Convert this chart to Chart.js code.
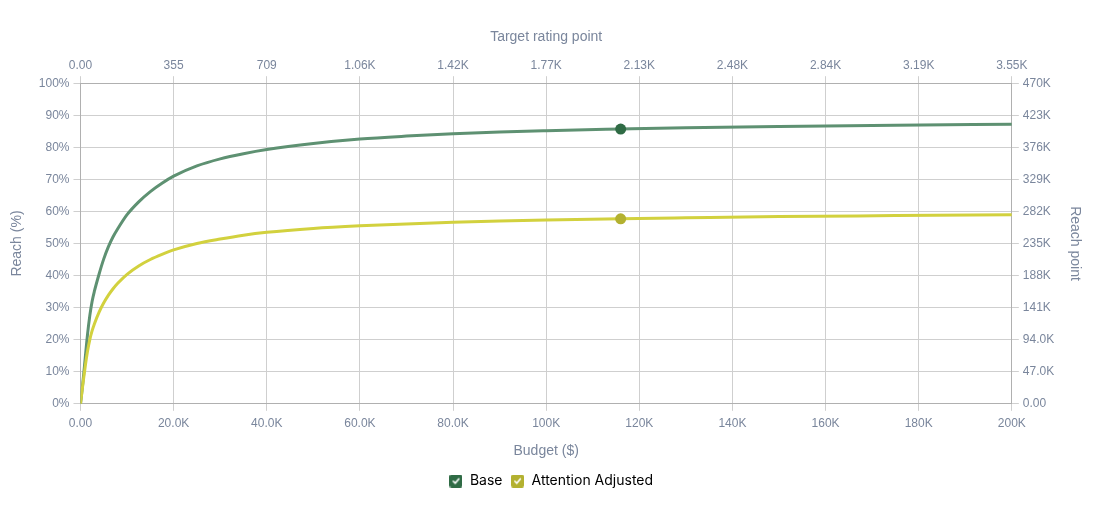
<!DOCTYPE html>
<html>
<head>
<meta charset="utf-8">
<script src="https://cdn.jsdelivr.net/npm/chart.js@4/dist/chart.umd.min.js"></script>
<style>
  html, body { margin: 0; padding: 0; background: #ffffff; }
  #wrap { width: 1102px; height: 508px; position: relative; }
</style>
</head>
<body>
<div id="wrap"><canvas id="c"></canvas></div>
<script>
// ---- data ----
const budget = [0, 500, 1000, 1500, 2000, 2500, 3000, 4000, 5000, 6000, 7000, 8000, 10000, 12500, 15000, 17500, 20000, 25000, 30000, 35000, 40000, 50000, 60000, 70000, 80000, 90000, 100000, 116000, 130000, 150000, 175000, 200000];
const baseReach = [0, 6.5, 14.0, 21.5, 27.5, 32.0, 35.2, 40.5, 45.2, 49.0, 52.1, 54.6, 59.0, 63.0, 66.2, 68.8, 71.0, 74.2, 76.4, 78.0, 79.3, 81.2, 82.6, 83.5, 84.2, 84.8, 85.2, 85.7, 86.1, 86.5, 86.9, 87.2];
const attentionReach = [0, 6.0, 11.5, 16.3, 20.0, 22.8, 25.0, 28.6, 31.5, 33.9, 35.9, 37.6, 40.4, 43.0, 45.0, 46.6, 48.0, 50.0, 51.4, 52.6, 53.5, 54.7, 55.5, 56.1, 56.6, 57.0, 57.3, 57.7, 58.0, 58.4, 58.7, 59.0];
const markerBudget = 116000;
const seriesNames = ['Base', 'Attention Adjusted'];

const bottomTickLabels = ['0.00', '20.0K', '40.0K', '60.0K', '80.0K', '100K', '120K', '140K', '160K', '180K', '200K'];
const topTickLabels = ['0.00', '355', '709', '1.06K', '1.42K', '1.77K', '2.13K', '2.48K', '2.84K', '3.19K', '3.55K'];
const leftTickLabels = ['0%', '10%', '20%', '30%', '40%', '50%', '60%', '70%', '80%', '90%', '100%'];
const rightTickLabels = ['0.00', '47.0K', '94.0K', '141K', '188K', '235K', '282K', '329K', '376K', '423K', '470K'];

// ---- styling ----
const tickColor = '#7a869c';
const gridColor = '#cfcfcf';
const borderColor = '#b0b0b0';
const tickFont = { family: 'Liberation Sans, Arial, Helvetica, sans-serif', size: 12 };
const titleFont = { family: 'Liberation Sans, Arial, Helvetica, sans-serif', size: 14 };

function checkBox(color) {
  const s = 13;
  const cv = document.createElement('canvas');
  cv.width = s; cv.height = s;
  const g = cv.getContext('2d');
  g.fillStyle = color;
  const r = 2;
  g.beginPath();
  g.moveTo(r, 0); g.lineTo(s - r, 0); g.quadraticCurveTo(s, 0, s, r);
  g.lineTo(s, s - r); g.quadraticCurveTo(s, s, s - r, s);
  g.lineTo(r, s); g.quadraticCurveTo(0, s, 0, s - r);
  g.lineTo(0, r); g.quadraticCurveTo(0, 0, r, 0);
  g.fill();
  g.strokeStyle = '#ffffff';
  g.lineWidth = 1.6;
  g.lineCap = 'round';
  g.lineJoin = 'round';
  g.beginPath();
  g.moveTo(3.8, 6.8); g.lineTo(5.7, 8.8); g.lineTo(9.3, 4.4);
  g.stroke();
  return cv;
}

const lineColors = ['#5e9172', '#d2d13e'];
const markerColors = ['#2f6b45', '#b3b130'];

function mkData(vals) { return budget.map((b, i) => ({ x: b, y: vals[i] })); }

const datasets = [baseReach, attentionReach].map((vals, k) => ({
  label: seriesNames[k],
  data: mkData(vals),
  borderColor: lineColors[k],
  backgroundColor: markerColors[k],
  borderWidth: 3,
  cubicInterpolationMode: 'monotone',
  pointRadius: ctx => (ctx.raw && ctx.raw.x === markerBudget) ? 5.5 : 0,
  pointHoverRadius: ctx => (ctx.raw && ctx.raw.x === markerBudget) ? 5.5 : 0,
  pointBackgroundColor: markerColors[k],
  pointBorderColor: markerColors[k],
  pointBorderWidth: 0,
  fill: false,
  xAxisID: 'x',
  yAxisID: 'y',
  order: 1 - k
}));

new Chart(document.getElementById('c'), {
  type: 'line',
  data: { datasets },
  options: {
    responsive: true,
    maintainAspectRatio: false,
    animation: false,
    layout: { padding: { top: 28, left: 14, right: 14, bottom: 10 } },
    plugins: {
      tooltip: { enabled: false },
      legend: {
        position: 'bottom',
        labels: {
          usePointStyle: true,
          padding: 8,
          font: { family: 'Inter, sans-serif', size: 14 },
          color: '#1f2733',
          generateLabels: chart => chart.data.datasets.map((ds, i) => ({
            text: ds.label,
            pointStyle: checkBox(markerColors[i]),
            fillStyle: markerColors[i],
            strokeStyle: markerColors[i],
            lineWidth: 0,
            hidden: false,
            datasetIndex: i
          }))
        }
      }
    },
    scales: {
      x: {
        type: 'linear',
        position: 'bottom',
        min: 0, max: 200000,
        ticks: { stepSize: 20000, color: tickColor, font: tickFont, padding: 6, maxRotation: 0,
                 callback: (v, i) => bottomTickLabels[i] },
        grid: { color: gridColor, tickLength: 7 },
        border: { color: borderColor },
        title: { display: true, text: 'Budget ($)', color: tickColor, font: titleFont, padding: { top: 6, bottom: 6 } }
      },
      x2: {
        type: 'linear',
        position: 'top',
        min: 0, max: 10,
        ticks: { stepSize: 1, color: tickColor, font: tickFont, padding: 3, maxRotation: 0,
                 callback: (v, i) => topTickLabels[i] },
        grid: { color: gridColor, drawOnChartArea: false, tickLength: 7 },
        border: { color: borderColor },
        title: { display: true, text: 'Target rating point', color: tickColor, font: titleFont, padding: { top: 1, bottom: 10 } }
      },
      y: {
        type: 'linear',
        position: 'left',
        min: 0, max: 100,
        ticks: { stepSize: 10, color: tickColor, font: tickFont, padding: 4,
                 callback: (v, i) => leftTickLabels[i] },
        grid: { color: gridColor, tickLength: 7 },
        border: { color: borderColor },
        title: { display: true, text: 'Reach (%)', color: tickColor, font: titleFont, padding: { top: -5, bottom: 9 } }
      },
      y2: {
        type: 'linear',
        position: 'right',
        min: 0, max: 10,
        ticks: { stepSize: 1, color: tickColor, font: tickFont, padding: 4,
                 callback: (v, i) => rightTickLabels[i] },
        grid: { color: gridColor, drawOnChartArea: false, tickLength: 7 },
        border: { color: borderColor },
        title: { display: true, text: 'Reach point', color: tickColor, font: titleFont, padding: { top: 4.6, bottom: 8.4 } }
      }
    }
  }
});
</script>
</body>
</html>
